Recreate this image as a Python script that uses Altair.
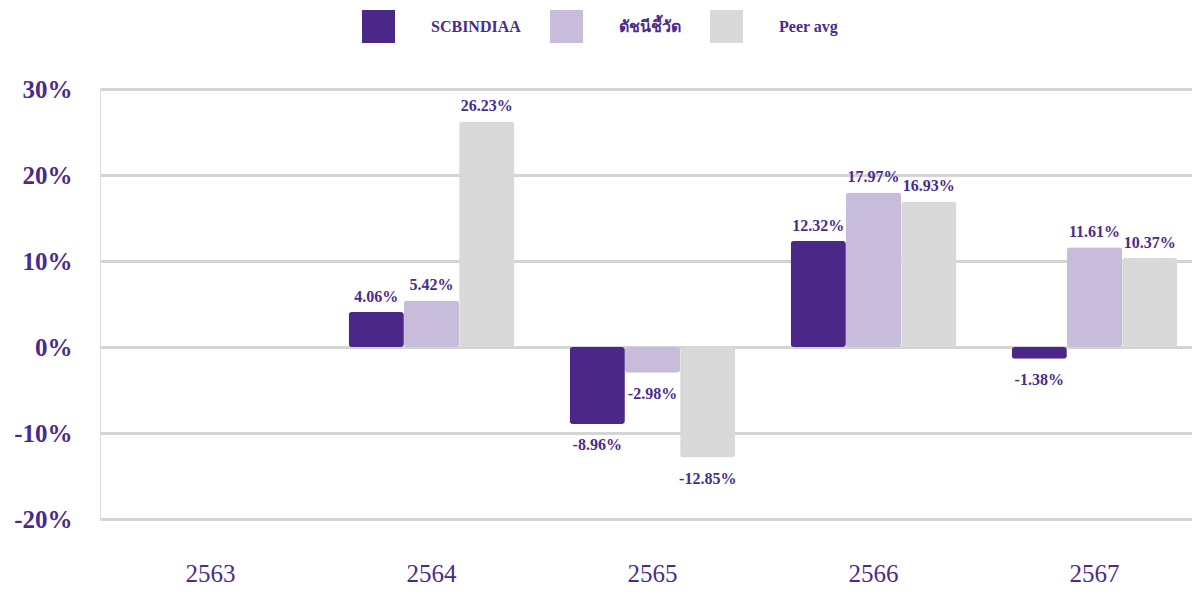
import altair as alt
import pandas as pd

years = ["2563", "2564", "2565", "2566", "2567"]
series = ["SCBINDIAA", "ดัชนีชี้วัด", "Peer avg"]
scb_values = [None, 4.06, -8.96, 12.32, -1.38]
bench_values = [None, 5.42, -2.98, 17.97, 11.61]
peer_values = [None, 26.23, -12.85, 16.93, 10.37]
colors = ["#4b2887", "#c8bcdb", "#d9d9d9"]
y_ticks = [-20, -10, 0, 10, 20, 30]

rows = []
for s, vals in zip(series, [scb_values, bench_values, peer_values]):
    for y, v in zip(years, vals):
        if v is not None:
            rows.append({"year": y, "series": s, "value": v, "label": f"{v:.2f}%"})
df = pd.DataFrame(rows)

PURPLE = "#4a2b8c"
SERIF = "Liberation Serif"

x_enc = alt.X(
    "year:N",
    scale=alt.Scale(domain=years, range=[0, 1105], paddingInner=0.25, paddingOuter=0.125),
    axis=alt.Axis(title=None, labelAngle=0, domain=False, ticks=False, labelPadding=42,
                  labelFont=SERIF, labelFontSize=25, labelColor=PURPLE, labelFontWeight="normal"),
)
xoff = alt.XOffset("series:N", scale=alt.Scale(domain=series, paddingInner=0, paddingOuter=0))
y_enc = alt.Y(
    "value:Q",
    scale=alt.Scale(domain=[-20, 30], nice=False),
    axis=alt.Axis(title=None, values=y_ticks, labelExpr="datum.value + '%'", domain=False, ticks=False,
                  labelPadding=28, labelFont=SERIF, labelFontSize=25, labelFontWeight="bold",
                  labelColor=PURPLE, gridColor="#d4d4d4", gridWidth=3),
)

base = alt.Chart(df)

bars = base.mark_bar(cornerRadius=3).encode(
    x=x_enc,
    xOffset=xoff,
    y=y_enc,
    color=alt.Color(
        "series:N",
        scale=alt.Scale(domain=series, range=colors),
        legend=alt.Legend(
            title=None, orient="none", legendX=262, legendY=-79, direction="horizontal",
            symbolType="square", symbolSize=1089, symbolStrokeWidth=0, symbolOpacity=1,
            labelFont=SERIF, labelFontSize=16, labelFontWeight="bold", labelColor=PURPLE,
            labelOffset=36, columnPadding=29, labelLimit=300,
        ),
    ),
)

text_style = dict(font=SERIF, fontSize=16, fontWeight="bold", color=PURPLE, baseline="middle", align="center")

pos_labels = base.transform_filter("datum.value >= 0").mark_text(dy=-15, **text_style).encode(
    x=x_enc, xOffset=xoff, y=y_enc, text="label:N"
)
neg_labels = base.transform_filter("datum.value < 0").mark_text(dy=21, **text_style).encode(
    x=x_enc, xOffset=xoff, y=y_enc, text="label:N"
)

chart = (
    alt.layer(bars, pos_labels, neg_labels)
    .properties(
        width=1092,
        height=430,
        autosize=alt.AutoSizeParams(type="none"),
        padding={"left": 92, "top": 81, "right": 0, "bottom": 67},
    )
    .configure_view(stroke=None)
    .configure(background="white")
)

chart.save("out.html", embed_options={"renderer": "svg", "actions": False})
